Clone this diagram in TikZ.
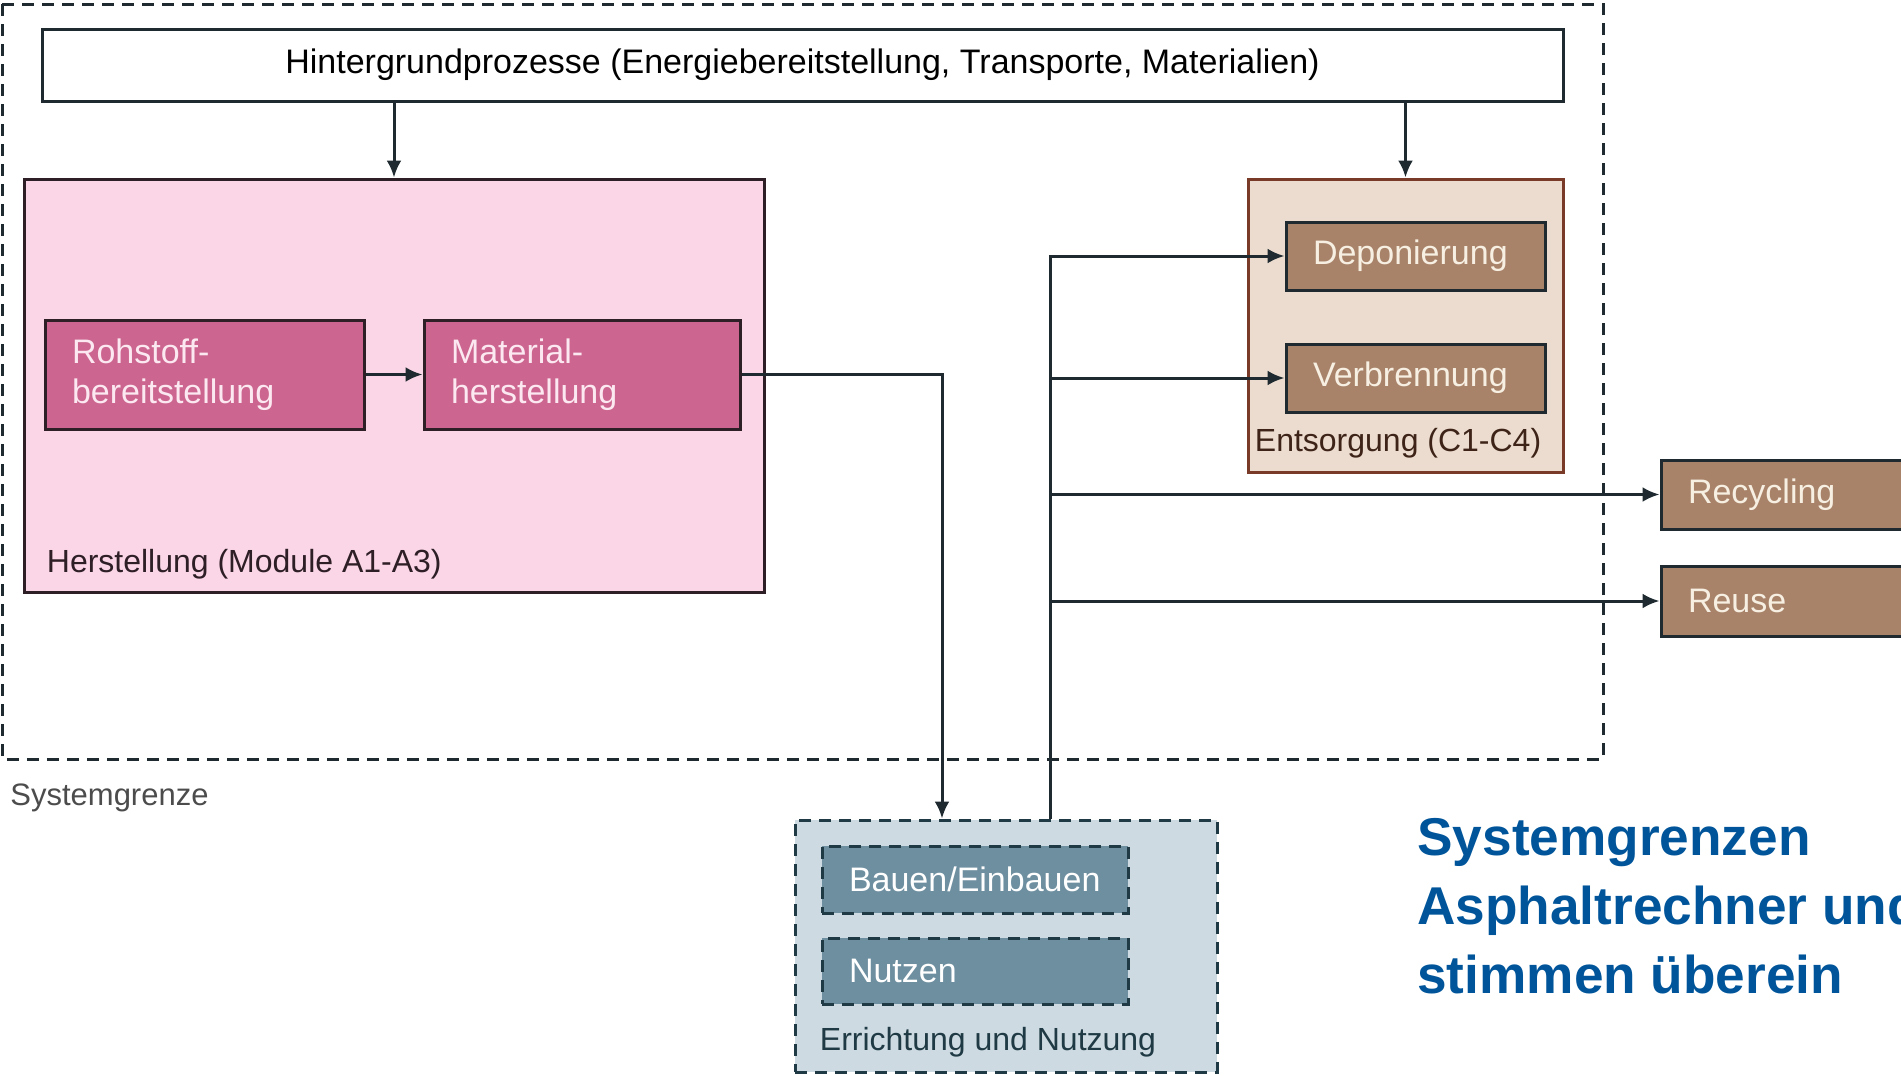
\documentclass[tikz,border=0pt]{standalone}
\usepackage{fontspec}
\setmainfont{Liberation Sans}
\usetikzlibrary{positioning, arrows.meta}

\definecolor{linedark}{HTML}{1E2A30}
\definecolor{herstfill}{HTML}{FBD6E6}
\definecolor{herstbox}{HTML}{CC6690}
\definecolor{herstdraw}{HTML}{2E1E26}
\definecolor{pinktext}{HTML}{FCE8F0}
\definecolor{entsfill}{HTML}{ECDCCF}
\definecolor{entsdraw}{HTML}{7A3A28}
\definecolor{entstext}{HTML}{3E2418}
\definecolor{brownbox}{HTML}{A8836A}
\definecolor{creamtext}{HTML}{F7EFE2}
\definecolor{errfill}{HTML}{CDDAE1}
\definecolor{errbox}{HTML}{6E8FA0}
\definecolor{errdraw}{HTML}{1F3A44}
\definecolor{titleblue}{HTML}{00559A}

\tikzset{
  boxtext/.style={font=\fontsize{17}{20}\selectfont},
  labeltext/.style={font=\fontsize{16}{19}\selectfont, inner sep=0pt, anchor=base west},
  group/.style={draw=#1, line width=1.5pt, inner sep=0pt},
  process/.style={draw=#1, line width=1.5pt, boxtext, align=left, inner xsep=13.5pt, inner ysep=0pt},
  line/.style={draw=linedark, line width=1.5pt},
}

\begin{document}
\begin{tikzpicture}[x=0.5pt, y=-0.5pt, >={Latex[length=8.5pt,width=7.5pt]}]
        \clip (0,0) rectangle (1901,1076);
        % Systemgrenze
        \draw[linedark, line width=1.5pt, dash pattern=on 6pt off 4pt] (2,4) rectangle (1603,759);
        \node[anchor=west, inner sep=0pt, text=black!70, font=\fontsize{15.5}{18}\selectfont] (sysgrenze) at (10,798) {Systemgrenze};

        \node[draw=linedark, line width=1.5pt, fill=white, boxtext, minimum width=760.5pt, minimum height=36pt, inner sep=0pt] (bg) at (802.5,65) {Hintergrundprozesse (Energiebereitstellung, Transporte, Materialien)};

        % Herstellung
        \node[group=herstdraw, fill=herstfill, minimum width=370pt, minimum height=206.5pt] (herst) at (394,385.5) {};
        \node[labeltext, text=herstdraw] (herst label) at ([xshift=12pt, yshift=10.5pt]herst.south west) {Herstellung (Module A1-A3)};
        \node[process=herstdraw, fill=herstbox, text=pinktext, text width=132.5pt, minimum height=54.5pt] (rohst) at (204.5,374.5) {Rohstoff-\\bereitstellung};
        \node[process=herstdraw, fill=herstbox, text=pinktext, text width=131pt, minimum height=54.5pt, right=28.5pt of rohst] (mat) {Material-\\herstellung};

        % Entsorgung
        \node[group=entsdraw, fill=entsfill, minimum width=157.5pt, minimum height=146.5pt] (entsorg) at (1405.5,325.5) {};
        \node[labeltext, text=entstext] (entsorg label) at ([xshift=4pt, yshift=11pt]entsorg.south west) {Entsorgung (C1-C4)};
        \node[process=linedark, fill=brownbox, text=creamtext, text width=102.5pt, minimum height=34pt] (depon) at (1415.5,256) {Deponierung};
        \node[process=linedark, fill=brownbox, text=creamtext, text width=102.5pt, minimum height=34pt, below=25.5pt of depon] (verbr) {Verbrennung};

        \node[process=linedark, fill=brownbox, text=creamtext, text width=118pt, minimum height=34.5pt] (recyc) at (1806,494.5) {Recycling};
        \node[process=linedark, fill=brownbox, text=creamtext, text width=118pt, minimum height=35pt, below=17pt of recyc] (reuse) {Reuse};

        % Errichtung und Nutzung
        \node[group=errdraw, fill=errfill, dash pattern=on 6pt off 4pt, minimum width=211pt, minimum height=126pt] (erricht) at (1006,946) {};
        \node[labeltext, text=errdraw] (erricht label) at ([xshift=13pt, yshift=11.5pt]erricht.south west) {Errichtung und Nutzung};
        \node[process=errdraw, fill=errbox, text=white, dash pattern=on 6pt off 4pt, text width=126pt, minimum height=33.5pt] (bauen) at (975,879.5) {Bauen/Einbauen};
        \node[process=errdraw, fill=errbox, text=white, dash pattern=on 6pt off 4pt, text width=126pt, minimum height=33pt, below=11pt of bauen] (nutzen) {Nutzen};

        \coordinate (split) at ([xshift=22pt]erricht.north);

        \draw[line, ->] (bg.south -| herst.north) -- (herst.north);
        \draw[line, ->] (bg.south -| entsorg.north) -- (entsorg.north);
        \draw[line, ->] (rohst) -- (mat);
        \draw[line, ->] (mat.east) -| ([xshift=-32pt]erricht.north);
        \draw[line, ->] (split) |- (depon.west);
        \draw[line, ->] (split) |- (verbr.west);
        \draw[line, ->] (split) |- (recyc.west);
        \draw[line, ->] (split) |- (reuse.west);

        \node[anchor=north west, inner sep=0pt, align=left, text=titleblue, font=\bfseries\fontsize{26.6}{34.5}\selectfont] (title) at (1417,818) {Systemgrenzen\\Asphaltrechner und\\stimmen überein};
    \end{tikzpicture}
\end{document}
